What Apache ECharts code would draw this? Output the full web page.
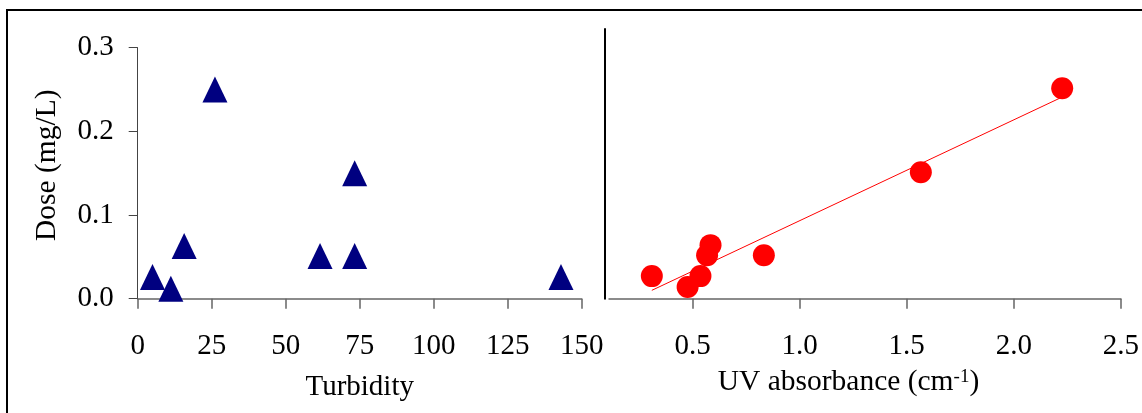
<!DOCTYPE html>
<html>
<head>
<meta charset="utf-8">
<script src="https://cdn.jsdelivr.net/npm/echarts@6/dist/echarts.min.js"></script>
<style>
  html, body { margin: 0; padding: 0; background: #fff; }
  #chart { width: 1142px; height: 413px; }
</style>
</head>
<body>
<div id="chart"></div>
<script>
// left panel: turbidity vs dose (triangles)
var turbidity = [5.0, 11.2, 15.7, 26.1, 61.6, 73.3, 73.3, 143.0];
var doseTurb = [0.026, 0.012, 0.063, 0.250, 0.051, 0.150, 0.051, 0.026];
// right panel: UV absorbance vs dose (circles)
var uvAbs = [0.31, 0.477, 0.537, 0.568, 0.584, 0.833, 1.566, 2.226];
var doseUv = [0.027, 0.014, 0.027, 0.052, 0.064, 0.052, 0.151, 0.2515];
// linear trend line end points
var trendX = [0.31, 2.226];
var trendY = [0.010, 0.241];
// tick labels
var doseTicks = [0, 0.1, 0.2, 0.3];
var turbTicks = [0, 25, 50, 75, 100, 125, 150];
var uvTicks = [0.5, 1.0, 1.5, 2.0, 2.5];

function zip(a, b) {
  return a.map(function (v, i) { return [v, b[i]]; });
}

var font = "'Liberation Serif', 'Times New Roman', serif";
var myChart = echarts.init(document.getElementById("chart"));

var option = {
  animation: false,
  textStyle: { fontFamily: font },
  graphic: [
    {
      type: "rect",
      shape: { x: 7, y: 10, width: 1300, height: 600 },
      style: { fill: "none", stroke: "#000", lineWidth: 2 },
      z: 100
    }
  ],
  grid: [
    { left: 137.7, top: 47.7, width: 444, height: 251 },
    { left: 609, top: 29, width: 512, height: 269.7 }
  ],
  xAxis: [
    {
      gridIndex: 0,
      type: "value",
      min: turbTicks[0],
      max: turbTicks[turbTicks.length - 1],
      interval: 25,
      splitLine: { show: false },
      axisLine: { onZero: false, lineStyle: { color: "#666", width: 1.5 } },
      axisTick: { length: 10, lineStyle: { color: "#666", width: 1.5 } },
      axisLabel: { margin: 33, color: "#000", fontSize: 29, fontFamily: font },
      name: "Turbidity",
      nameLocation: "middle",
      nameGap: 74,
      nameTextStyle: { color: "#000", fontSize: 29, fontFamily: font }
    },
    {
      gridIndex: 1,
      type: "value",
      min: 0.11,
      max: uvTicks[uvTicks.length - 1],
      splitLine: { show: false },
      axisLine: { onZero: false, lineStyle: { color: "#666", width: 1.5 } },
      axisTick: { length: 10, customValues: uvTicks, lineStyle: { color: "#666", width: 1.5 } },
      axisLabel: {
        margin: 33, color: "#000", fontSize: 29, fontFamily: font,
        customValues: uvTicks,
        formatter: function (v) { return v.toFixed(1); }
      },
      name: "{a|UV absorbance (cm}{s|-1}{a|)}",
      nameLocation: "middle",
      nameGap: 69,
      nameTextStyle: {
        color: "#000",
        fontFamily: font,
        padding: [0, 33, 0, 0],
        rich: {
          a: { fontSize: 29.5, fontFamily: font, color: "#000", lineHeight: 29 },
          s: { fontSize: 19, fontFamily: font, color: "#000", verticalAlign: "top", lineHeight: 19 }
        }
      }
    }
  ],
  yAxis: [
    {
      gridIndex: 0,
      type: "value",
      min: doseTicks[0],
      max: doseTicks[doseTicks.length - 1],
      interval: 0.1,
      splitLine: { show: false },
      axisLine: { onZero: false, lineStyle: { color: "#444", width: 1 } },
      axisTick: { length: 9, lineStyle: { color: "#444", width: 1 } },
      axisLabel: {
        margin: 24, color: "#000", fontSize: 29, fontFamily: font,
        formatter: function (v) { return v.toFixed(1); }
      },
      name: "Dose (mg/L)",
      nameLocation: "middle",
      nameGap: 75,
      nameTextStyle: { color: "#000", fontSize: 29.5, fontFamily: font, padding: [0, 0, 0, 16] }
    },
    {
      gridIndex: 1,
      type: "value",
      min: 0,
      max: 0.3223,
      offset: 4,
      splitLine: { show: false },
      axisLine: { onZero: false, lineStyle: { color: "#000", width: 2 } },
      axisTick: { show: false },
      axisLabel: { show: false }
    }
  ],
  series: [
    {
      name: "Turbidity",
      type: "scatter",
      xAxisIndex: 0,
      yAxisIndex: 0,
      symbol: "triangle",
      symbolSize: [25, 26],
      clip: false,
      itemStyle: { color: "#000080", opacity: 1 },
      data: zip(turbidity, doseTurb)
    },
    {
      name: "Trend",
      type: "line",
      xAxisIndex: 1,
      yAxisIndex: 1,
      symbol: "none",
      silent: true,
      z: 1,
      lineStyle: { color: "#ff0000", width: 1 },
      data: zip(trendX, trendY)
    },
    {
      name: "UV",
      type: "scatter",
      xAxisIndex: 1,
      yAxisIndex: 1,
      symbol: "circle",
      symbolSize: 22,
      clip: false,
      z: 3,
      itemStyle: { color: "#ff0000", opacity: 1 },
      data: zip(uvAbs, doseUv)
    }
  ]
};

myChart.setOption(option);
</script>
</body>
</html>
